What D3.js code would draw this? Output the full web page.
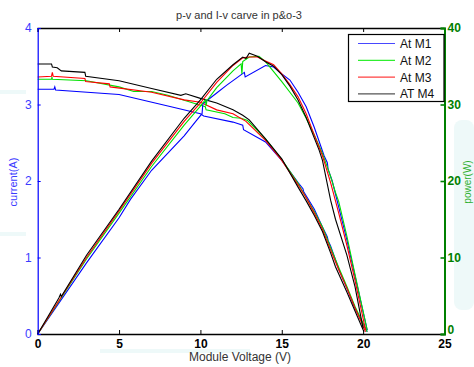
<!DOCTYPE html>
<html>
<head>
<meta charset="utf-8">
<script src="https://cdn.jsdelivr.net/npm/d3@7"></script>
<style>
  body { margin: 0; background: #fff; }
  svg { display: block; font-family: "Liberation Sans", Arial, sans-serif; }
</style>
</head>
<body>
<script>
// series names and colours
const seriesNames = ['At M1', 'At M2', 'At M3', 'AT M4'];
const seriesColors = ['#0000ff', '#00e000', '#ff0000', '#000000'];
const legendColors = ['#4848ff', '#30ee30', '#ff4040', '#555555'];

// I-V curves: [voltage, current]
const ivM1 = [[0,3.20],[1,3.20],[1.05,3.23],[1.1,3.19],[5,3.13],[8,2.98],[10,2.88],[10.2,2.85],[12,2.77],[12.6,2.73],[12.65,2.67],[14,2.51],[15,2.27],[16,1.98],[16.3,1.90],[16.35,1.86],[17,1.63],[17.5,1.40],[17.8,1.27],[17.85,1.22],[18,1.15],[18.5,0.85],[19,0.60],[19.5,0.34],[20.25,0.03]];
const ivM2 = [[0,3.33],[0.85,3.33],[0.88,3.36],[0.9,3.33],[3,3.31],[5,3.23],[5.9,3.17],[7,3.17],[8,3.12],[10,2.99],[10.3,2.97],[10.35,2.93],[11.5,2.88],[12,2.83],[12.5,2.82],[12.9,2.79],[14,2.55],[15,2.28],[16,1.97],[16.5,1.78],[17,1.60],[17.5,1.40],[18,1.13],[18.5,0.87],[19,0.62],[19.5,0.36],[20.25,0.03]];
const ivM3 = [[0,3.36],[0.85,3.37],[0.9,3.42],[0.95,3.37],[2.9,3.34],[2.95,3.30],[4.4,3.27],[4.45,3.23],[7,3.16],[9,3.06],[10,3.03],[11,2.93],[12,2.88],[12.8,2.78],[14,2.53],[15,2.27],[16,1.95],[16.5,1.78],[17,1.58],[17.5,1.37],[18,1.10],[18.5,0.84],[19,0.60],[19.5,0.34],[20.15,0.03]];
const ivM4 = [[0,3.53],[0.85,3.53],[0.9,3.49],[1.2,3.48],[1.45,3.44],[2.9,3.42],[2.95,3.37],[5,3.31],[7,3.21],[8.8,3.12],[9.1,3.14],[10,3.08],[11,3.02],[12,2.93],[12.6,2.86],[13,2.80],[14,2.55],[15,2.29],[16,1.92],[16.5,1.74],[17,1.55],[17.5,1.34],[18,1.06],[18.3,0.88],[19,0.55],[19.5,0.30],[20.05,0.03]];

// P-V curves: [voltage, power]
const pvM1 = [[0,0],[3,9.3],[5,15.2],[5.7,17.6],[7,21.4],[9,25.9],[9.75,27.9],[10.1,28.8],[10.15,30.1],[11,31.5],[11.6,32.5],[12.7,34.2],[12.75,33.6],[14,35.1],[14.5,34.9],[15,34.0],[15.5,33.2],[16,31.6],[16.5,29.7],[17,27.0],[17.6,23.3],[17.8,22.4],[17.85,21.5],[18.1,20.0],[18.5,16.6],[19,12.3],[19.5,7.6],[20.25,0.5]];
const pvM2 = [[0,0],[3,9.8],[5,15.8],[7,21.9],[9,27.3],[10,29.8],[10.3,30.6],[10.35,29.8],[10.4,30.5],[11,32.2],[12,34.4],[12.5,35.3],[12.55,34.0],[12.6,35.6],[13,36.2],[13.6,36.3],[14,35.6],[14.5,34.3],[15,33.0],[15.5,31.6],[16,30.2],[16.5,28.2],[17,26.0],[17.5,23.6],[18,20.6],[18.3,18.5],[18.5,17.3],[19,12.8],[19.5,7.8],[20.25,0.5]];
const pvM3 = [[0,0],[3,10.0],[5,16.1],[7,22.3],[9,27.8],[10,30.2],[11,32.9],[12,35.1],[12.6,36.1],[13,36.2],[13.5,36.2],[14,35.7],[14.5,35.2],[15,34.0],[15.5,32.6],[16,31.0],[16.5,28.8],[17,26.0],[17.5,23.3],[18,19.8],[18.5,15.8],[19,11.6],[19.5,7.0],[20.15,0.5]];
const pvM4 = [[0,0],[1.3,4.7],[1.4,5.2],[1.45,4.9],[3,10.3],[5,16.3],[7,22.6],[9,28.2],[10,30.6],[11,33.3],[12,35.2],[12.6,36.2],[12.8,36.0],[13.0,36.7],[13.5,36.3],[14,35.6],[14.5,35.0],[15,33.9],[15.5,32.4],[16,30.6],[16.5,28.3],[17,25.6],[17.3,24.0],[17.5,22.7],[18,17.5],[18.3,15.0],[19,10.3],[19.5,6.2],[20.0,0.7]];

const xTicks = [0, 5, 10, 15, 20, 25];
const iTicks = [0, 1, 2, 3, 4];
const pTicks = [0, 10, 20, 30, 40];

const W = 474, H = 367;
const svg = d3.select('body').append('svg').attr('width', W).attr('height', H);

// faint background watermark
const bg = svg.append('g').attr('fill', '#eef9f9');
bg.append('rect').attr('x', 454).attr('y', 120).attr('width', 20).attr('height', 190).attr('rx', 8);
bg.append('rect').attr('x', 0).attr('y', 90).attr('width', 26).attr('height', 4);
bg.append('rect').attr('x', 0).attr('y', 232).attr('width', 26).attr('height', 4);
bg.append('rect').attr('x', 100).attr('y', 349).attr('width', 150).attr('height', 4);

const x = d3.scaleLinear().domain([0, 25]).range([37.7, 444.5]);
const yI = d3.scaleLinear().domain([0, 4]).range([334, 28]);
const yP = d3.scaleLinear().domain([0, 40]).range([334, 28]);

// plot frame background
svg.append('rect')
    .attr('x', x(0)).attr('y', yI(4))
    .attr('width', x(25) - x(0)).attr('height', yI(0) - yI(4))
    .attr('fill', '#fff');

// curves
const ivLine = d3.line().x(d => x(d[0])).y(d => yI(d[1]));
const pvLine = d3.line().x(d => x(d[0])).y(d => yP(d[1]));
const ivData = [ivM1, ivM2, ivM3, ivM4];
const pvData = [pvM1, pvM2, pvM3, pvM4];

const curves = svg.append('g').attr('fill', 'none').attr('stroke-width', 1.1);
ivData.forEach((d, i) => {
    curves.append('path').attr('d', ivLine(d)).attr('stroke', seriesColors[i]);
});
pvData.forEach((d, i) => {
    curves.append('path').attr('d', pvLine(d)).attr('stroke', seriesColors[i]);
});

// axes
const bottomAxis = svg.append('g')
    .attr('transform', `translate(0,${yI(0)})`)
    .call(d3.axisBottom(x).tickValues(xTicks).tickSize(-4).tickPadding(5));
bottomAxis.select('.domain').attr('stroke-width', 1.6);
bottomAxis.selectAll('text')
    .attr('font-size', 12).attr('font-weight', 'bold').attr('fill', '#000')
    .attr('font-family', '"Liberation Sans", Arial, sans-serif');

const topAxis = svg.append('g')
    .attr('transform', `translate(0,${yI(4)})`)
    .call(d3.axisTop(x).tickValues(xTicks).tickSize(-4).tickFormat(''));
topAxis.select('.domain').attr('stroke-width', 1.4);

const leftAxis = svg.append('g')
    .attr('transform', `translate(${x(0)},0)`)
    .call(d3.axisLeft(yI).tickValues(iTicks).tickFormat(d3.format('d')).tickSize(-3).tickPadding(6));
leftAxis.select('.domain').attr('stroke', '#0000ff').attr('stroke-width', 1.2);
leftAxis.selectAll('.tick line').attr('stroke', '#0000ff');
leftAxis.selectAll('text')
    .attr('font-size', 12).attr('fill', '#3b3bff')
    .attr('font-family', '"Liberation Sans", Arial, sans-serif');

const rightAxis = svg.append('g')
    .attr('transform', `translate(${x(25)},0)`)
    .call(d3.axisRight(yP).tickValues(pTicks).tickFormat(d3.format('d')).tickSize(-4).tickPadding(3));
rightAxis.select('.domain').attr('stroke', '#008000').attr('stroke-width', 2);
rightAxis.selectAll('.tick line').attr('stroke', '#008000').attr('stroke-width', 1.6);
rightAxis.selectAll('text')
    .attr('font-size', 12).attr('font-weight', 'bold').attr('fill', '#008000')
    .attr('font-family', '"Liberation Sans", Arial, sans-serif')
    .attr('dy', d => d === 0 ? '-0.05em' : '0.32em');

// title and labels
svg.append('text')
    .attr('x', 239).attr('y', 19)
    .attr('text-anchor', 'middle').attr('font-size', 11).attr('fill', '#333')
    .text('p-v and I-v carve in p&o-3');

svg.append('text')
    .attr('x', 240).attr('y', 361)
    .attr('text-anchor', 'middle').attr('font-size', 12).attr('fill', '#333')
    .text('Module Voltage (V)');

svg.append('text')
    .attr('transform', 'translate(17,182) rotate(-90)')
    .attr('text-anchor', 'middle').attr('font-size', 11).attr('fill', '#3b3bff')
    .text('current(A)');

svg.append('text')
    .attr('transform', 'translate(471,182) rotate(-90)')
    .attr('text-anchor', 'middle').attr('font-size', 10).attr('fill', '#30b030')
    .text('power(W)');

// legend
const legend = svg.append('g');
legend.append('rect')
    .attr('x', 348.5).attr('y', 34.5).attr('width', 95.5).attr('height', 67)
    .attr('fill', '#fff').attr('stroke', '#000').attr('stroke-width', 1.2);
seriesNames.forEach((name, i) => {
    const ly = 43.5 + i * 16.8;
    legend.append('line')
        .attr('x1', 358).attr('x2', 395).attr('y1', ly).attr('y2', ly)
        .attr('stroke', legendColors[i]).attr('stroke-width', 1.2);
    legend.append('text')
        .attr('x', 400).attr('y', ly + 4.5)
        .attr('font-size', 12).attr('fill', '#111')
        .text(name);
});
</script>
</body>
</html>
